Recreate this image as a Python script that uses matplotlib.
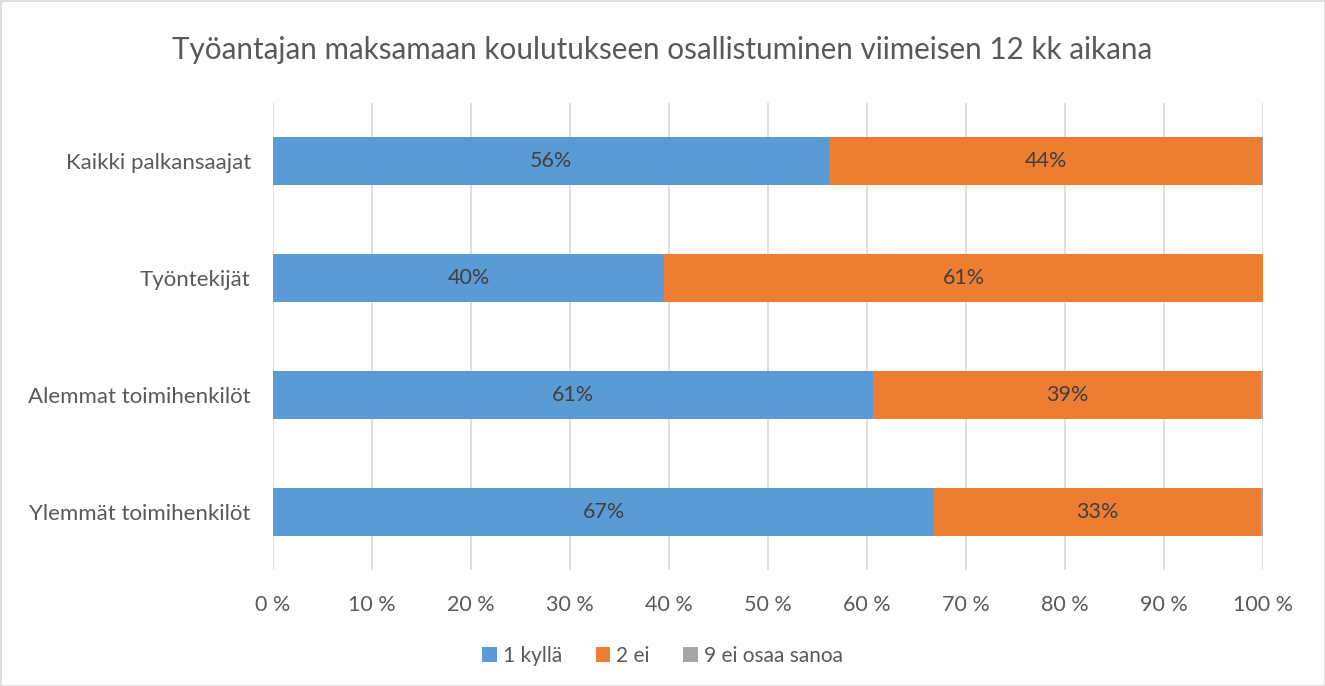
import numpy as np
import matplotlib.pyplot as plt
from matplotlib.patches import Rectangle

plt.rcParams['font.family'] = ['Lato', 'DejaVu Sans']

categories = ["Kaikki palkansaajat", "Työntekijät", "Alemmat toimihenkilöt", "Ylemmät toimihenkilöt"]
kylla = [56.2, 39.5, 60.6, 66.8]
ei = [43.7, 60.5, 39.2, 33.0]
eos = [0.1, 0.0, 0.2, 0.2]
labels_kylla = ["56%", "40%", "61%", "67%"]
labels_ei = ["44%", "61%", "39%", "33%"]
series_names = ["1 kyllä", "2 ei", "9 ei osaa sanoa"]
colors = ["#5B9BD5", "#ED7D31", "#A5A5A5"]
text_col = "#595959"

fig = plt.figure(figsize=(13.25, 6.86), dpi=100)
ax = fig.add_axes([273/1325, 1-570/686, 990/1325, 467/686])

y = np.arange(len(categories))
h = 0.41
b1 = ax.barh(y, kylla, height=h, color=colors[0], label=series_names[0], zorder=3)
b2 = ax.barh(y, ei, left=kylla, height=h, color=colors[1], label=series_names[1], zorder=3)
left3 = np.array(kylla) + np.array(ei)
b3 = ax.barh(y, eos, left=left3, height=h, color=colors[2], label=series_names[2], zorder=3)

for i in range(len(categories)):
    ax.text(kylla[i]/2, y[i], labels_kylla[i], ha='center', va='center', fontsize=15.5, color="#404040", zorder=4)
    ax.text(kylla[i] + ei[i]/2, y[i], labels_ei[i], ha='center', va='center', fontsize=15.5, color="#404040", zorder=4)

ax.set_xlim(0, 100)
ax.set_ylim(3.5, -0.5)
ax.set_yticks(y)
ax.set_yticklabels(categories, fontsize=16, color=text_col)
ax.set_xticks(np.arange(0, 101, 10))
ax.set_xticklabels([f"{v} %" for v in range(0, 101, 10)], fontsize=15.5, color=text_col)
ax.tick_params(axis='y', length=0, pad=16)
ax.tick_params(axis='x', length=0, pad=18)
ax.xaxis.grid(True, color="#D9D9D9", linewidth=1.2, zorder=0)
for s in ax.spines.values():
    s.set_visible(False)

fig.text(0.5, 1-50/686, "Työantajan maksamaan koulutukseen osallistuminen viimeisen 12 kk aikana",
         ha='center', va='center', fontsize=21.3, color=text_col)

fig.legend(handles=[b1, b2, b3], labels=series_names, loc='center', bbox_to_anchor=(0.5, 1-656/686),
           ncol=3, frameon=False, fontsize=15, labelcolor=text_col, handlelength=0.7, handleheight=0.7,
           handletextpad=0.3, columnspacing=1.6)

fig.patches.append(Rectangle((0.5/1325, 0.5/686), 1-1/1325, 1-1/686, transform=fig.transFigure,
                             fill=False, edgecolor="#D9D9D9", linewidth=1.2))

fig.savefig("out.png", dpi=100)
